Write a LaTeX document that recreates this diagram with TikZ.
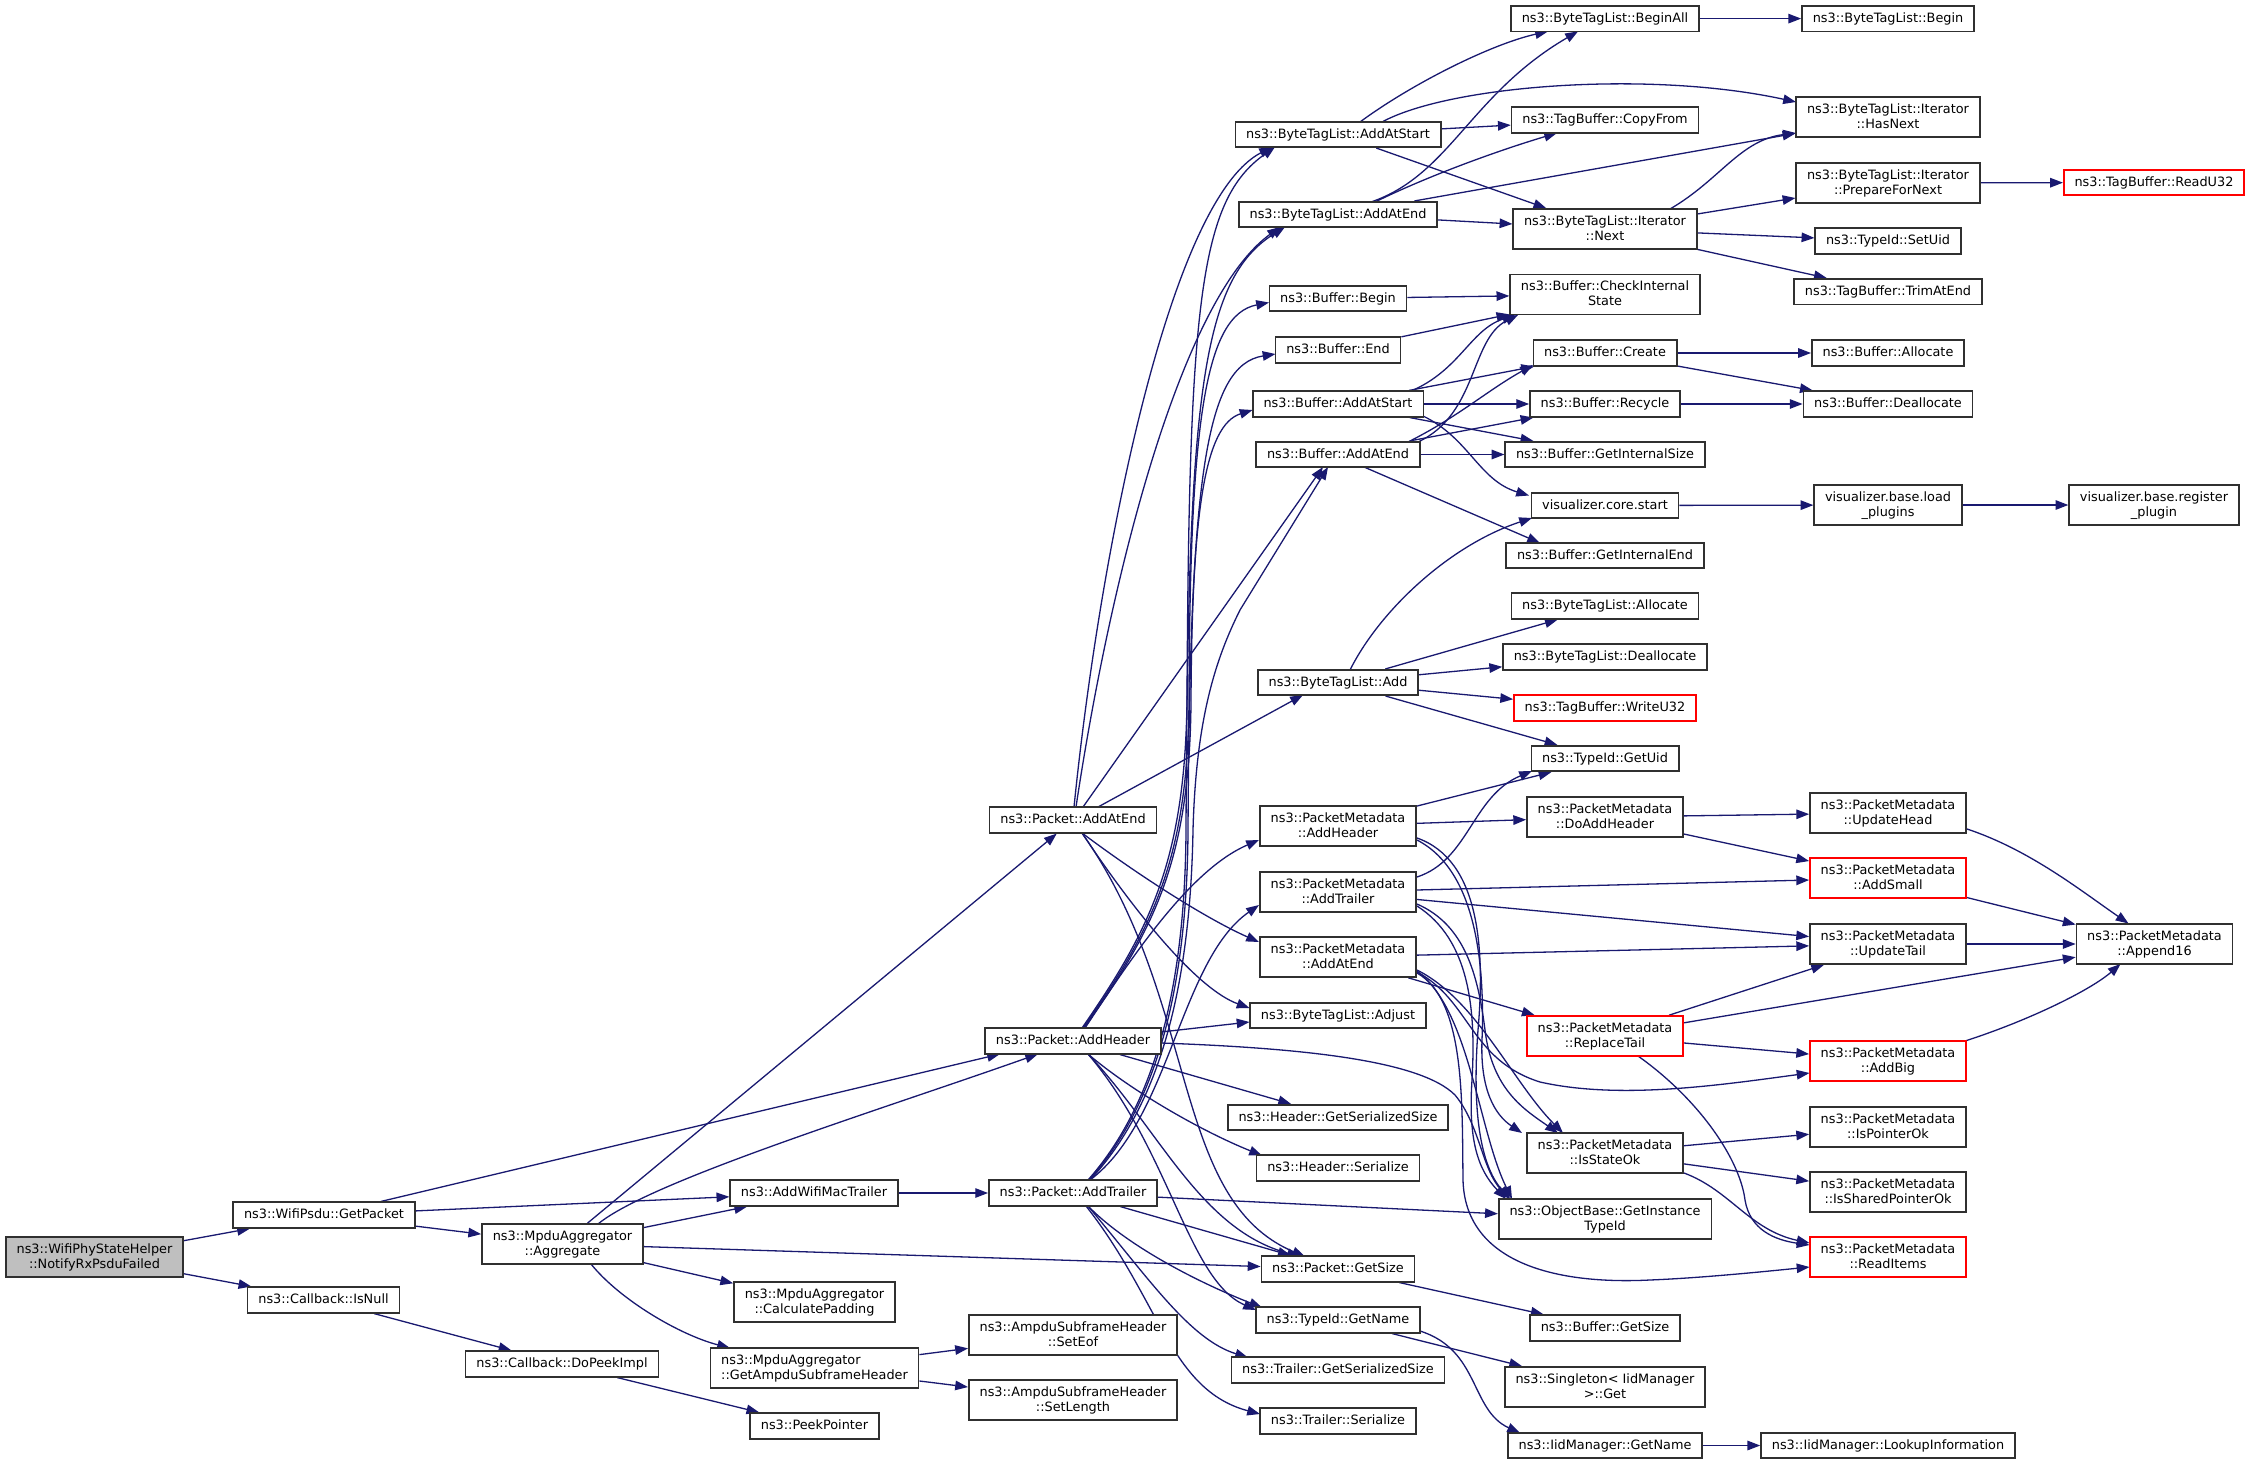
\documentclass[tikz,border=0pt]{standalone}
\usepackage{fontspec}
\setmainfont{DejaVu Sans}
\usetikzlibrary{arrows.meta,calc}
\definecolor{edgec}{HTML}{191970}
\definecolor{nb}{HTML}{303030}
\definecolor{rootg}{HTML}{BFBFBF}
\definecolor{redc}{HTML}{FF0000}
\newcommand\nodefont{\fontsize{12.85pt}{15pt}\selectfont}
\newcommand\twoline[2]{\vbox{\halign{##\cr#1\hfil\cr\hfil#2\hfil\cr}}}
\pgfdeclarelayer{bglayer}
\pgfdeclarelayer{edgelayer}
\pgfsetlayers{bglayer,edgelayer,main}
\tikzset{
  nbase/.style={draw=nb, line width=1.6pt, fill=white, inner xsep=10.8pt, inner ysep=0pt, font=\nodefont},
  n1/.style={nbase, minimum height=25.5pt, text height=9.6pt, text depth=2.4pt},
  n2/.style={nbase, minimum height=40pt, text height=24.9pt, text depth=2.1pt},
  rb/.style={draw=redc},
  edg/.style={draw=edgec, line width=1.3pt, -{Triangle[length=12.8pt,width=9.5pt]}}
}
\begin{document}
\begin{tikzpicture}[x=1pt,y=-1pt]
\useasboundingbox (0,0) rectangle (2251,1464);
\begin{pgfonlayer}{bglayer}
\fill[white] (0,0) rectangle (2251,1464);
\end{pgfonlayer}
% column A-D
\node[n2,fill=rootg] (notify) at (94.5,1257) {\twoline{ns3::WifiPhyStateHelper}{::NotifyRxPsduFailed}};
\node[n1] (getpacket) at (324,1215) {ns3::WifiPsdu::GetPacket};
\node[n1] (isnull) at (323.5,1300) {ns3::Callback::IsNull};
\node[n2] (aggregate) at (562.5,1244) {\twoline{ns3::MpduAggregator}{::Aggregate}};
\node[n1] (dopeek) at (562,1364) {ns3::Callback::DoPeekImpl};
\node[n1] (addwifi) at (814,1193) {ns3::AddWifiMacTrailer};
\node[n2] (calcpad) at (814.5,1302) {\twoline{ns3::MpduAggregator}{::CalculatePadding}};
\node[n2] (gash) at (814.5,1368) {\twoline{ns3::MpduAggregator}{::GetAmpduSubframeHeader}};
\node[n1] (peek) at (814.5,1426) {ns3::PeekPointer};
% column E
\node[n1] (paddatend) at (1073,820) {ns3::Packet::AddAtEnd};
\node[n1] (paddheader) at (1073,1041) {ns3::Packet::AddHeader};
\node[n1] (paddtrailer) at (1073,1193) {ns3::Packet::AddTrailer};
\node[n2] (seteof) at (1073,1335) {\twoline{ns3::AmpduSubframeHeader}{::SetEof}};
\node[n2] (setlength) at (1073,1400) {\twoline{ns3::AmpduSubframeHeader}{::SetLength}};
% column F
\node[n1] (btladdatstart) at (1338,134.5) {ns3::ByteTagList::AddAtStart};
\node[n1] (btladdatend) at (1338,214.5) {ns3::ByteTagList::AddAtEnd};
\node[n1] (bufbegin) at (1338,298.5) {ns3::Buffer::Begin};
\node[n1] (bufend) at (1338,350) {ns3::Buffer::End};
\node[n1] (bufaddatstart) at (1338,404) {ns3::Buffer::AddAtStart};
\node[n1] (bufaddatend) at (1338,454.5) {ns3::Buffer::AddAtEnd};
\node[n1] (btladd) at (1338,682.5) {ns3::ByteTagList::Add};
\node[n2] (pmaddheader) at (1338,826) {\twoline{ns3::PacketMetadata}{::AddHeader}};
\node[n2] (pmaddtrailer) at (1338,892) {\twoline{ns3::PacketMetadata}{::AddTrailer}};
\node[n2] (pmaddatend) at (1338,957) {\twoline{ns3::PacketMetadata}{::AddAtEnd}};
\node[n1] (btladjust) at (1338,1015.5) {ns3::ByteTagList::Adjust};
\node[n1] (hgss) at (1338,1117.5) {ns3::Header::GetSerializedSize};
\node[n1] (hser) at (1338,1168) {ns3::Header::Serialize};
\node[n1] (pgetsize) at (1338,1269) {ns3::Packet::GetSize};
\node[n1] (getname) at (1338,1320) {ns3::TypeId::GetName};
\node[n1] (tgss) at (1338,1370) {ns3::Trailer::GetSerializedSize};
\node[n1] (tser) at (1338,1421) {ns3::Trailer::Serialize};
% column G
\node[n1] (beginall) at (1605,18.6) {ns3::ByteTagList::BeginAll};
\node[n1] (copyfrom) at (1605,120) {ns3::TagBuffer::CopyFrom};
\node[n2] (next) at (1605,229) {\twoline{ns3::ByteTagList::Iterator}{::Next}};
\node[n2] (checkis) at (1605,294.5) {\twoline{ns3::Buffer::CheckInternal}{State}};
\node[n1] (create) at (1605,353) {ns3::Buffer::Create};
\node[n1] (recycle) at (1605,404) {ns3::Buffer::Recycle};
\node[n1] (getis) at (1605,454.5) {ns3::Buffer::GetInternalSize};
\node[n1] (corestart) at (1605,505.5) {visualizer.core.start};
\node[n1] (getie) at (1605,555.5) {ns3::Buffer::GetInternalEnd};
\node[n1] (btlalloc) at (1605,606) {ns3::ByteTagList::Allocate};
\node[n1] (btldealloc) at (1605,657) {ns3::ByteTagList::Deallocate};
\node[n1,rb] (writeu32) at (1605,708) {ns3::TagBuffer::WriteU32};
\node[n1] (getuid) at (1605,758.5) {ns3::TypeId::GetUid};
\node[n2] (doaddheader) at (1605,817) {\twoline{ns3::PacketMetadata}{::DoAddHeader}};
\node[n2,rb] (replacetail) at (1605,1036) {\twoline{ns3::PacketMetadata}{::ReplaceTail}};
\node[n2] (isstateok) at (1605,1153) {\twoline{ns3::PacketMetadata}{::IsStateOk}};
\node[n2] (getinst) at (1605,1219) {\twoline{ns3::ObjectBase::GetInstance}{TypeId}};
\node[n1] (bgetsize) at (1605,1328) {ns3::Buffer::GetSize};
\node[n2] (singleton) at (1605,1387) {\twoline{ns3::Singleton< IidManager}{>::Get}};
\node[n1] (iidgetname) at (1605,1445.5) {ns3::IidManager::GetName};
% column H
\node[n1] (btlbegin) at (1888,18.6) {ns3::ByteTagList::Begin};
\node[n2] (hasnext) at (1888,117) {\twoline{ns3::ByteTagList::Iterator}{::HasNext}};
\node[n2] (prepare) at (1888,183) {\twoline{ns3::ByteTagList::Iterator}{::PrepareForNext}};
\node[n1] (setuid) at (1888,241) {ns3::TypeId::SetUid};
\node[n1] (trim) at (1888,291.6) {ns3::TagBuffer::TrimAtEnd};
\node[n1] (alloc) at (1888,353) {ns3::Buffer::Allocate};
\node[n1] (dealloc) at (1888,404) {ns3::Buffer::Deallocate};
\node[n2] (loadplugins) at (1888,505) {\twoline{visualizer.base.load}{\_plugins}};
\node[n2] (updatehead) at (1888,813) {\twoline{ns3::PacketMetadata}{::UpdateHead}};
\node[n2,rb] (addsmall) at (1888,878) {\twoline{ns3::PacketMetadata}{::AddSmall}};
\node[n2] (updatetail) at (1888,944) {\twoline{ns3::PacketMetadata}{::UpdateTail}};
\node[n2,rb] (addbig) at (1888,1061) {\twoline{ns3::PacketMetadata}{::AddBig}};
\node[n2] (ispointerok) at (1888,1127) {\twoline{ns3::PacketMetadata}{::IsPointerOk}};
\node[n2] (issharedok) at (1888,1192) {\twoline{ns3::PacketMetadata}{::IsSharedPointerOk}};
\node[n2,rb] (readitems) at (1888,1257) {\twoline{ns3::PacketMetadata}{::ReadItems}};
\node[n1] (lookup) at (1888,1445.5) {ns3::IidManager::LookupInformation};
% column I
\node[n1,rb] (readu32) at (2154,182.5) {ns3::TagBuffer::ReadU32};
\node[n2] (register) at (2154,505) {\twoline{visualizer.base.register}{\_plugin}};
\node[n2] (append16) at (2154.5,944) {\twoline{ns3::PacketMetadata}{::Append16}};

\begin{pgfonlayer}{edgelayer}
% straight edges
\foreach \a/\b in {notify/getpacket, notify/isnull, getpacket/addwifi, getpacket/aggregate,
  isnull/dopeek, dopeek/peek, aggregate/paddatend, aggregate/addwifi, aggregate/pgetsize,
  aggregate/calcpad, addwifi/paddtrailer, gash/seteof, gash/setlength, paddheader/hgss,
  paddtrailer/getinst, paddtrailer/pgetsize, btladdatstart/copyfrom, btladdatstart/next,
  btladdatend/hasnext, btladdatend/next, next/prepare, next/setuid, next/trim, prepare/readu32,
  beginall/btlbegin, bufbegin/checkis, bufend/checkis, bufaddatstart/create, bufaddatstart/recycle,
  bufaddatstart/getis, bufaddatend/recycle, bufaddatend/getis, create/alloc, create/dealloc,
  recycle/dealloc, corestart/loadplugins, loadplugins/register, btladd/btlalloc, btladd/btldealloc,
  btladd/writeu32, btladd/getuid, pmaddheader/getuid, pmaddheader/doaddheader, doaddheader/updatehead,
  doaddheader/addsmall, addsmall/append16, updatetail/append16, pmaddtrailer/addsmall,
  pmaddtrailer/updatetail, pmaddatend/updatetail, pmaddatend/replacetail, replacetail/updatetail,
  replacetail/append16, replacetail/addbig, isstateok/ispointerok, isstateok/issharedok,
  pgetsize/bgetsize, getname/singleton, iidgetname/lookup}
  \draw[edg] (\a) -- (\b);
\draw[edg] (getpacket) -- ($(paddheader)+(-73,13)$);
\draw[edg] ($(paddatend)+(10,-13)$) -- ($(bufaddatend)+(-15,12.5)$);
\draw[edg] ($(paddatend)+(25,-13)$) -- ($(btladd)+(-35,12.5)$);
\draw[edg] ($(paddheader)+(88,-9)$) -- ($(btladjust)+(-88.5,6.5)$);
\draw[edg] ($(bufaddatend)+(26,12.5)$) -- ($(getie)+(-65,-12.5)$);
% curved edges, left part
\draw[edg] ($(aggregate)+(35.5,-20)$) .. controls +(52,-43) and +(-158,56) .. ($(paddheader)+(-35,13)$);
\draw[edg] ($(aggregate)+(28.5,20)$) .. controls +(29,36) and +(-50,-13) .. ($(gash)+(-84.5,-20)$);
% Packet::AddAtEnd
\draw[edg] ($(paddatend)+(1,-13)$) .. controls +(26,-257) and +(-102,53) .. ($(btladdatstart)+(-66,12.5)$);
\draw[edg] ($(paddatend)+(3,-13)$) .. controls +(34,-227) and +(-100,73) .. ($(btladdatend)+(-58,12.5)$);
\draw[edg] ($(paddatend)+(9,13)$) .. controls +(60,45) and +(-50,-22) .. ($(pmaddatend)+(-79,-15)$);
\draw[edg] ($(paddatend)+(9,13)$) .. controls +(58,87) and +(-50,-18) .. ($(btladjust)+(-88.5,-7.5)$);
\draw[edg] ($(paddatend)+(9,13)$) .. controls +(118,167) and +(-135,-57) .. ($(pgetsize)+(-33,-12.5)$);
% Packet::AddHeader
\draw[edg] ($(paddheader)+(9,-13)$) .. controls (1150,930) and (1185,860) .. (1187,700) .. controls (1189,300) and (1200,200) .. ($(btladdatstart)+(-63,12.5)$);
\draw[edg] ($(paddheader)+(10,-13)$) .. controls (1152,930) and (1188,860) .. (1189,700) .. controls (1190,420) and (1205,315) .. ($(bufbegin)+(-69,4)$);
\draw[edg] ($(paddheader)+(11,-13)$) .. controls (1154,930) and (1190,860) .. (1191,700) .. controls (1192,510) and (1205,425) .. ($(bufaddatstart)+(-85.5,6)$);
\draw[edg] ($(paddheader)+(12,-13)$) .. controls +(45,-68) and +(-70,30) .. ($(pmaddheader)+(-79,14)$);
\draw[edg] ($(paddheader)+(15,13)$) .. controls +(42,36) and +(-62,-25) .. ($(hser)+(-76,-12.5)$);
\draw[edg] ($(paddheader)+(15,13)$) .. controls +(72,76) and +(-100,-27) .. ($(pgetsize)+(-38,-12.5)$);
\draw[edg] ($(paddheader)+(15,13)$) .. controls +(82,96) and +(-68,-30) .. ($(getname)+(-82,-10)$);
\draw[edg] ($(paddheader)+(88,2)$) .. controls (1300,1048) and (1420,1060) .. (1455,1095) .. controls (1480,1125) and (1482,1170) .. ($(getinst)+(-95,-20)$);
% Packet::AddTrailer
\draw[edg] ($(paddtrailer)+(15,-13)$) .. controls (1150,1110) and (1185,1000) .. (1186,830) .. controls (1188,400) and (1200,280) .. ($(btladdatend)+(-53,12.5)$);
\draw[edg] ($(paddtrailer)+(16,-13)$) .. controls (1152,1110) and (1187,1000) .. (1188,830) .. controls (1190,480) and (1205,365) .. ($(bufend)+(-62.5,4)$);
\draw[edg] ($(paddtrailer)+(17,-13)$) .. controls (1155,1110) and (1190,1000) .. (1193,830) .. controls (1196,720) and (1215,660) .. (1240,610) -- ($(bufaddatend)+(-10,12.5)$);
\draw[edg] ($(paddtrailer)+(17,-13)$) .. controls +(80,-60) and +(-79,55) .. ($(pmaddtrailer)+(-79,13)$);
\draw[edg] ($(paddtrailer)+(15,13)$) .. controls +(42,43) and +(-56,-22) .. ($(getname)+(-76,-12.5)$);
\draw[edg] ($(paddtrailer)+(15,13)$) .. controls +(62,74) and +(-58,-18) .. ($(tgss)+(-90,-12.5)$);
\draw[edg] ($(paddtrailer)+(13,13)$) .. controls +(74,94) and +(-90,-24) .. ($(tser)+(-78,-7)$);
% ByteTagList
\draw[edg] ($(btladdatstart)+(22,-12.5)$) .. controls +(50,-37) and +(-58,13) .. ($(beginall)+(-57,12.8)$);
\draw[edg] ($(btladdatstart)+(44,-12.5)$) .. controls +(68,-37) and +(-146,-32) .. ($(hasnext)+(-92,-15)$);
\draw[edg] ($(btladdatend)+(33,-12.5)$) .. controls +(79,-27) and +(-108,63) .. ($(beginall)+(-27,12.8)$);
\draw[edg] ($(btladdatend)+(37,-12.5)$) .. controls +(55,-27) and +(-57,17) .. ($(copyfrom)+(-48,13)$);
\draw[edg] ($(next)+(65,-20)$) .. controls +(50,-29) and +(-56,7) .. ($(hasnext)+(-92,16)$);
% Buffer
\draw[edg] ($(bufaddatstart)+(72,-12.5)$) .. controls +(50,-21) and +(-45,15) .. ($(checkis)+(-90,20.5)$);
\draw[edg] ($(bufaddatstart)+(85,12)$) .. controls +(46,22) and +(-50,-15) .. ($(corestart)+(-76,-10)$);
\draw[edg] ($(bufaddatend)+(80,-12.5)$) .. controls +(60,-28) and +(-48,24) .. ($(checkis)+(-87,20.5)$);
\draw[edg] ($(bufaddatend)+(70,-12.5)$) .. controls +(50,-25) and +(-45,25) .. ($(create)+(-72,12)$);
\draw[edg] ($(btladd)+(12,-12.5)$) .. controls +(30,-60) and +(-82,27) .. ($(corestart)+(-73,12.5)$);
% PacketMetadata
\draw[edg] ($(pmaddtrailer)+(79,-15)$) .. controls +(52,-17) and +(-60,25) .. ($(getuid)+(-73,12.5)$);
\draw[edg] ($(updatehead)+(79,16)$) .. controls +(63,21) and +(-48,-33) .. ($(append16)+(-26,-20.5)$);
\draw[edg] ($(addbig)+(77,-20)$) .. controls +(65,-21) and +(-30,26) .. ($(append16)+(-34,20)$);
\draw[edg] ($(getname)+(82,11)$) .. controls +(60,19) and +(-50,-23) .. ($(iidgetname)+(-85,-12.5)$);
\draw[edg] ($(replacetail)+(33,20)$) .. controls (1700,1100) and (1740,1160) .. (1745,1200) .. controls (1750,1230) and (1775,1240) .. ($(readitems)+(-78.5,-12)$);
\draw[edg] ($(isstateok)+(79,20)$) .. controls +(46,17) and +(-60,-13) .. ($(readitems)+(-78.5,-14)$);
\draw[edg] ($(pmaddheader)+(79,12)$) .. controls (1480,860) and (1485,950) .. (1478,1030) .. controls (1472,1110) and (1480,1165) .. ($(getinst)+(-95,-20)$);
\draw[edg] ($(pmaddheader)+(79,14)$) .. controls (1475,870) and (1485,960) .. (1482,1040) .. controls (1480,1090) and (1495,1115) .. ($(isstateok)+(-83,-20)$);
\draw[edg] ($(pmaddtrailer)+(79,12)$) .. controls (1465,925) and (1478,975) .. (1485,1030) .. controls (1492,1090) and (1525,1110) .. ($(isstateok)+(-47,-20)$);
\draw[edg] ($(pmaddtrailer)+(79,14)$) .. controls (1470,940) and (1476,1010) .. (1472,1080) .. controls (1468,1140) and (1478,1170) .. ($(getinst)+(-99,-20)$);
\draw[edg] ($(pmaddatend)+(79,13)$) .. controls +(60,30) and +(-50,-50) .. ($(isstateok)+(-42,-20)$);
\draw[edg] ($(pmaddatend)+(79,14)$) .. controls (1470,1010) and (1478,1130) .. ($(getinst)+(-93,-20)$);
\draw[edg] ($(pmaddatend)+(79,15)$) .. controls (1470,1000) and (1470,1060) .. (1540,1082) .. controls (1620,1100) and (1720,1085) .. ($(addbig)+(-78.5,12)$);
\draw[edg] ($(pmaddatend)+(79,16)$) .. controls (1465,1000) and (1462,1100) .. (1463,1180) .. controls (1465,1260) and (1550,1285) .. (1650,1280) .. controls (1700,1278) and (1760,1272) .. ($(readitems)+(-78.5,10)$);
\end{pgfonlayer}
\end{tikzpicture}
\end{document}
